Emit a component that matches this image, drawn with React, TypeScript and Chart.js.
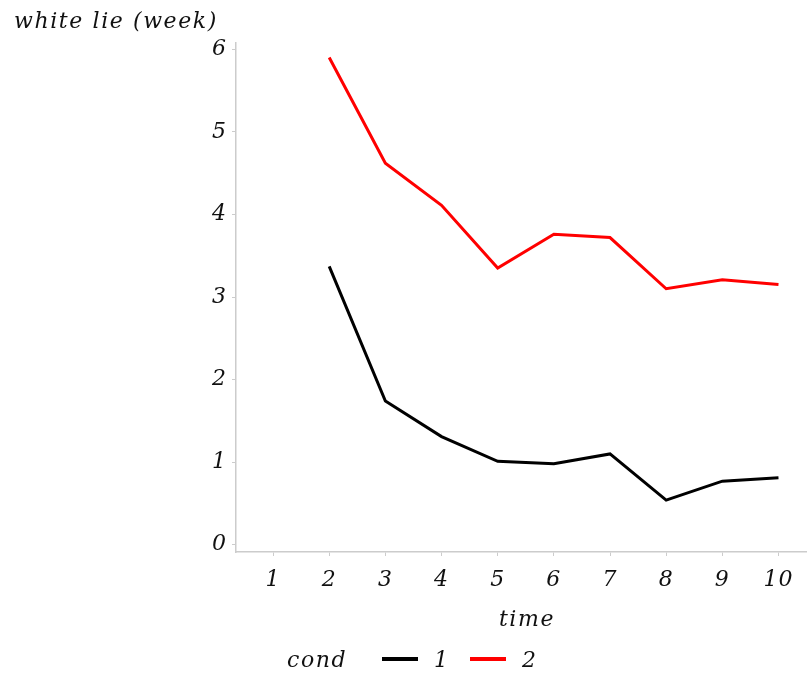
import React, { useEffect, useRef } from "react";
import { Chart, registerables } from "chart.js";

Chart.register(...registerables);

const timeLabels = [1, 2, 3, 4, 5, 6, 7, 8, 9, 10];
const cond1 = [null, 3.37, 1.74, 1.31, 1.01, 0.98, 1.1, 0.54, 0.77, 0.81];
const cond2 = [null, 5.9, 4.62, 4.11, 3.35, 3.76, 3.72, 3.1, 3.21, 3.15];
const yTicks = [0, 1, 2, 3, 4, 5, 6];
const seriesNames = ["1", "2"];
const seriesColors = ["#000000", "#ff0000"];

const FONT = "'DejaVu Serif', serif";
const FS = 22;
const LS = "1.6px";

export default function App() {
  const ref = useRef<HTMLCanvasElement | null>(null);

  useEffect(() => {
    const canvas = ref.current;
    if (!canvas) return;
    const toPts = (arr: (number | null)[]) =>
      timeLabels.map((t, i) => ({ x: t, y: arr[i] }));

    const textPlugin = {
      id: "textPlugin",
      beforeDraw(chart: any) {
        (chart.ctx as any).letterSpacing = "1px";
      },
      afterDraw(chart: any) {
        const ctx = chart.ctx;
        ctx.save();
        (ctx as any).letterSpacing = LS;
        ctx.fillStyle = "#111111";
        ctx.font = `italic ${FS}px ${FONT}`;
        ctx.textBaseline = "middle";
        ctx.textAlign = "left";
        ctx.fillText("white lie (week)", 14, 22);
        ctx.textAlign = "center";
        ctx.fillText("time", 527, 620);
        // legend
        ctx.textAlign = "left";
        ctx.fillText("cond", 287, 661);
        const items = chart.data.datasets;
        const starts = [382, 470];
        items.forEach((ds: any, i: number) => {
          const x0 = starts[i];
          ctx.strokeStyle = ds.borderColor;
          ctx.lineWidth = 4;
          ctx.beginPath();
          ctx.moveTo(x0, 659);
          ctx.lineTo(x0 + 36, 659);
          ctx.stroke();
          ctx.fillText(ds.label, x0 + 52, 661);
        });
        ctx.restore();
      },
    };

    const chart = new Chart(canvas, {
      type: "line",
      data: {
        datasets: [
          {
            label: seriesNames[0],
            data: toPts(cond1) as any,
            borderColor: seriesColors[0],
            backgroundColor: seriesColors[0],
            borderWidth: 3,
            pointRadius: 0,
            tension: 0,
            spanGaps: false,
          },
          {
            label: seriesNames[1],
            data: toPts(cond2) as any,
            borderColor: seriesColors[1],
            backgroundColor: seriesColors[1],
            borderWidth: 3,
            pointRadius: 0,
            tension: 0,
            spanGaps: false,
          },
        ],
      },
      options: {
        animation: false,
        responsive: false,
        maintainAspectRatio: false,
        layout: { padding: { left: 0, top: 43, right: 1, bottom: 0 } },
        plugins: {
          legend: { display: false },
          title: { display: false },
          tooltip: { enabled: false },
        },
        scales: {
          x: {
            type: "linear",
            min: 0.34,
            max: 10.49,
            afterBuildTicks: (s: any) => {
              s.ticks = timeLabels.map((v) => ({ value: v }));
            },
            afterFit: (s: any) => {
              s.height = 121;
            },
            grid: {
              drawOnChartArea: false,
              drawTicks: true,
              tickLength: 4,
              color: "#cccccc",
            },
            border: { display: true, color: "#cccccc", width: 1.5 },
            ticks: {
              color: "#111111",
              padding: 11,
              font: { family: FONT, size: FS, style: "italic" },
              maxRotation: 0,
              autoSkip: false,
            },
          },
          y: {
            type: "linear",
            min: -0.088,
            max: 6.076,
            afterBuildTicks: (s: any) => {
              s.ticks = yTicks.map((v) => ({ value: v }));
            },
            afterFit: (s: any) => {
              s.width = 236;
            },
            grid: {
              drawOnChartArea: false,
              drawTicks: true,
              tickLength: 4,
              color: "#cccccc",
            },
            border: { display: true, color: "#cccccc", width: 1.5 },
            ticks: {
              color: "#111111",
              padding: 5,
              font: { family: FONT, size: FS, style: "italic" },
              autoSkip: false,
            },
          },
        },
      },
      plugins: [textPlugin],
    });
    return () => chart.destroy();
  }, []);

  return (
    <div style={{ position: "absolute", left: 0, top: 0, width: 807, height: 673, background: "#ffffff" }}>
      <canvas ref={ref} width={807} height={673} style={{ width: 807, height: 673 }} />
    </div>
  );
}
